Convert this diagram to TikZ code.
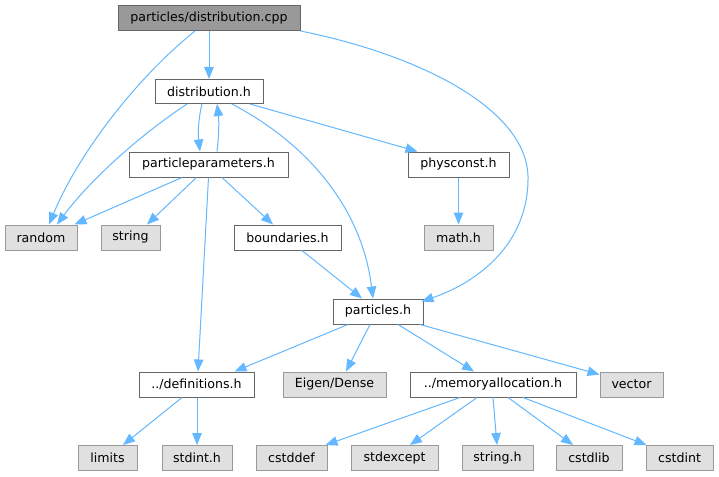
\documentclass[tikz,border=0pt]{standalone}
\usepackage{fontspec}
\setmainfont{DejaVu Sans}
\usetikzlibrary{arrows.meta}
\definecolor{edgec}{HTML}{63B8FF}
\definecolor{bordd}{HTML}{666666}
\definecolor{bordl}{HTML}{999999}
\definecolor{fillg}{HTML}{E0E0E0}
\definecolor{fillr}{HTML}{999999}
\tikzset{
  box/.style={rectangle, inner sep=0pt, line width=1pt, minimum height=25pt,
    font=\fontsize{12.6}{15}\selectfont, text=black, anchor=center},
  wbox/.style={box, draw=bordd, fill=white},
  gbox/.style={box, draw=bordl, fill=fillg},
  rbox/.style={box, draw=bordd, fill=fillr},
  edge/.style={draw=edgec, line width=1pt, -{Triangle[length=12pt,width=9.5pt]}},
}
\begin{document}
\begin{tikzpicture}[x=1pt,y=-1pt]
\useasboundingbox[fill=white] (0,0) rectangle (719,476);
% nodes
\node[rbox, minimum width=182pt] (cpp) at (209,18) {particles/distribution.cpp};
\node[wbox, minimum width=108pt, minimum height=24pt] (disth) at (209,91.5) {distribution.h};
\node[wbox, minimum width=159pt] (pp) at (208.5,164.5) {particleparameters.h};
\node[wbox, minimum width=101pt] (physc) at (458.5,164.5) {physconst.h};
\node[gbox, minimum width=72pt] (random) at (41,237.5) {random};
\node[gbox, minimum width=59pt] (string) at (130.5,237.5) {string};
\node[wbox, minimum width=107pt] (bound) at (287.5,237.5) {boundaries.h};
\node[gbox, minimum width=69pt] (math) at (458.5,237.5) {math.h};
\node[wbox, minimum width=90pt] (parth) at (378,311.5) {particles.h};
\node[wbox, minimum width=115pt] (defs) at (196.5,384.5) {../definitions.h};
\node[gbox, minimum width=103pt] (eigen) at (334.5,384.5) {Eigen/Dense};
\node[wbox, minimum width=166pt] (memal) at (493,384.5) {../memoryallocation.h};
\node[gbox, minimum width=63pt] (vector) at (631.5,384.5) {vector};
\node[gbox, minimum width=59pt] (limits) at (107.5,458) {limits};
\node[gbox, minimum width=70pt] (stdint) at (197,458) {stdint.h};
\node[gbox, minimum width=71pt] (cstddef) at (291.5,458) {cstddef};
\node[gbox, minimum width=87pt] (stdexcept) at (394.5,458) {stdexcept};
\node[gbox, minimum width=71pt] (stringh) at (497.5,458) {string.h};
\node[gbox, minimum width=66pt] (cstdlib) at (589,458) {cstdlib};
\node[gbox, minimum width=67pt] (cstdint) at (679.5,458) {cstdint};
% edges
\draw[edge] (cpp.south) -- (disth.north);
\draw[edge] ([xshift=-14pt]cpp.south) .. controls (140,75) and (80,150) .. ([xshift=8pt]random.north);
\draw[edge] (cpp.south east) .. controls (420,55) and (530,110) .. (528,180)
  .. controls (527,250) and (470,285) .. ([xshift=-2pt,yshift=-3pt]parth.north east);
\draw[edge] ([xshift=-7pt]disth.south) .. controls (198,120) and (198,135) .. ([xshift=-8.5pt]pp.north);
\draw[edge] ([xshift=8.5pt]pp.north) .. controls (219,135) and (219,120) .. ([xshift=8pt]disth.south);
\draw[edge] ([xshift=-22pt]disth.south) .. controls (140,135) and (90,180) .. ([xshift=16pt]random.north);
\draw[edge] ([xshift=41pt]disth.south) -- ([xshift=-41pt]physc.north);
\draw[edge] ([xshift=23pt]disth.south) .. controls (310,145) and (362,210) .. ([xshift=-5pt]parth.north);
\draw[edge] ([xshift=-26.5pt]pp.south) -- ([xshift=-3pt]random.north east);
\draw[edge] ([xshift=-12pt]pp.south) -- ([xshift=16.5pt]string.north);
\draw[edge] ([xshift=13.5pt]pp.south) -- ([xshift=-14.5pt]bound.north);
\draw[edge] (pp.south) -- ([xshift=1.5pt]defs.north);
\draw[edge] (physc.south) -- (math.north);
\draw[edge] ([xshift=14.5pt]bound.south) -- ([xshift=-16pt]parth.north);
\draw[edge] ([xshift=-30pt]parth.south) -- ([xshift=38pt]defs.north);
\draw[edge] ([xshift=-8pt]parth.south) -- ([xshift=11.5pt]eigen.north);
\draw[edge] ([xshift=20pt]parth.south) -- ([xshift=-19pt]memal.north);
\draw[edge] ([xshift=42pt]parth.south) -- ([yshift=-3pt]vector.north west);
\draw[edge] ([xshift=-14.5pt]defs.south) -- ([xshift=15.5pt]limits.north);
\draw[edge] ([xshift=0.5pt]defs.south) -- (stdint.north);
\draw[edge] ([xshift=-33pt]memal.south) -- ([xshift=-2pt]cstddef.north east);
\draw[edge] ([xshift=-16pt]memal.south) -- ([xshift=15.5pt]stdexcept.north);
\draw[edge] (memal.south) -- ([xshift=-0.5pt]stringh.north);
\draw[edge] ([xshift=15pt]memal.south) -- ([xshift=-16pt]cstdlib.north);
\draw[edge] ([xshift=30pt]memal.south) -- ([xshift=1pt]cstdint.north west);
\end{tikzpicture}
\end{document}
